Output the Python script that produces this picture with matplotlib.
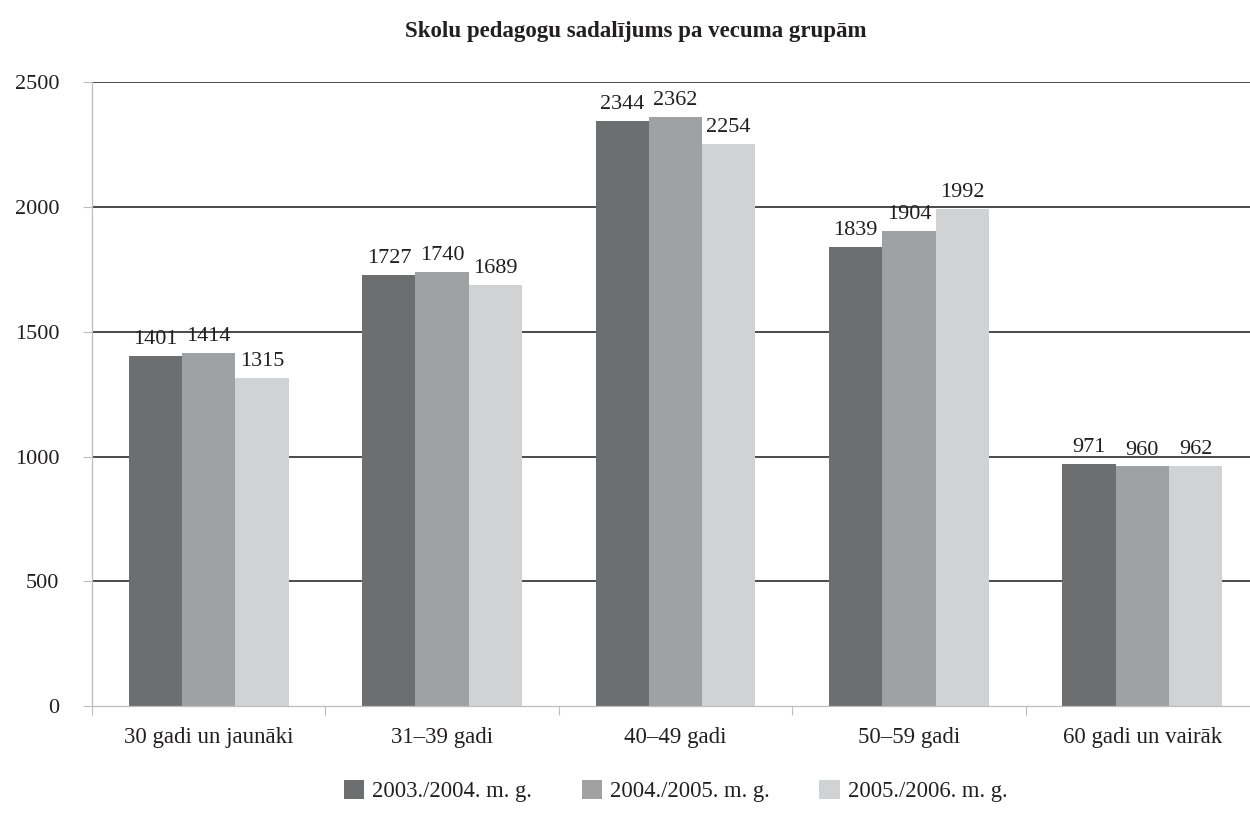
import numpy as np
import matplotlib
matplotlib.use("Agg")
import matplotlib.pyplot as plt
from matplotlib.patches import Patch

plt.rcParams["font.family"] = ["Liberation Serif", "DejaVu Serif"]

# dati
kategorijas = ["30 gadi un jaunāki", "31–39 gadi", "40–49 gadi", "50–59 gadi", "60 gadi un vairāk"]
gadi = ["2003./2004. m. g.", "2004./2005. m. g.", "2005./2006. m. g."]
v_2003 = [1401, 1727, 2344, 1839, 971]
v_2004 = [1414, 1740, 2362, 1904, 960]
v_2005 = [1315, 1689, 2254, 1992, 962]
y_ticks = [0, 500, 1000, 1500, 2000, 2500]

colors = ["#6d6e70", "#a0a1a3", "#d1d2d4"]
spine_c = "#bdbdbd"
txt_c = "#231f20"


def main():
    fig = plt.figure(figsize=(12.5, 8.26), dpi=100)
    ax = fig.add_axes([92 / 1250, 1 - 706 / 826, 1167 / 1250, (706 - 82.3) / 826])

    x = np.arange(len(kategorijas))
    w = 0.228
    series = [v_2003, v_2004, v_2005]

    # režģa līnijas (bez nulles)
    for t in y_ticks[1:]:
        ax.axhline(t, color="#2b2b2b", lw=1.2, zorder=1)

    for j, vals in enumerate(series):
        bars = ax.bar(x + (j - 1) * w, vals, width=w, color=colors[j],
                      label=gadi[j], zorder=2)
        for b, v in zip(bars, vals):
            ax.text(b.get_x() + b.get_width() / 2, v + 28, str(v),
                    ha="center", va="bottom", fontsize=16, color=txt_c, zorder=3)

    ax.set_xlim(-0.5, len(kategorijas) - 0.5)
    ax.set_ylim(0, 2500)
    ax.set_yticks(y_ticks)
    ax.set_xticks(x)
    ax.set_xticklabels(kategorijas)
    ax.set_xticks(np.arange(len(kategorijas) + 1) - 0.5, minor=True)

    ax.tick_params(axis="y", length=6.5, width=0.8, color=spine_c, pad=17,
                   labelsize=16, labelcolor=txt_c)
    ax.tick_params(axis="x", which="major", length=0, pad=15,
                   labelsize=16.5, labelcolor=txt_c)
    ax.tick_params(axis="x", which="minor", length=6.5, width=0.8, color=spine_c)

    for s in ["top", "right"]:
        ax.spines[s].set_visible(False)
    for s in ["left", "bottom"]:
        ax.spines[s].set_color(spine_c)
        ax.spines[s].set_linewidth(0.9)

    handles = [Patch(facecolor=c, edgecolor="none") for c in colors]
    ax.legend(handles, gadi, loc="center", bbox_to_anchor=(0.5, -0.136), ncol=3,
              frameon=False, fontsize=16.3, handlelength=0.9, handleheight=0.9,
              handletextpad=0.35, columnspacing=2.2, labelcolor=txt_c)

    fig.text(636 / 1250, 1 - 31 / 826, "Skolu pedagogu sadalījums pa vecuma grupām",
             ha="center", va="center", fontsize=16.5, fontweight="bold", color=txt_c)

    fig.savefig("out.png", dpi=100)


if __name__ == "__main__":
    main()
